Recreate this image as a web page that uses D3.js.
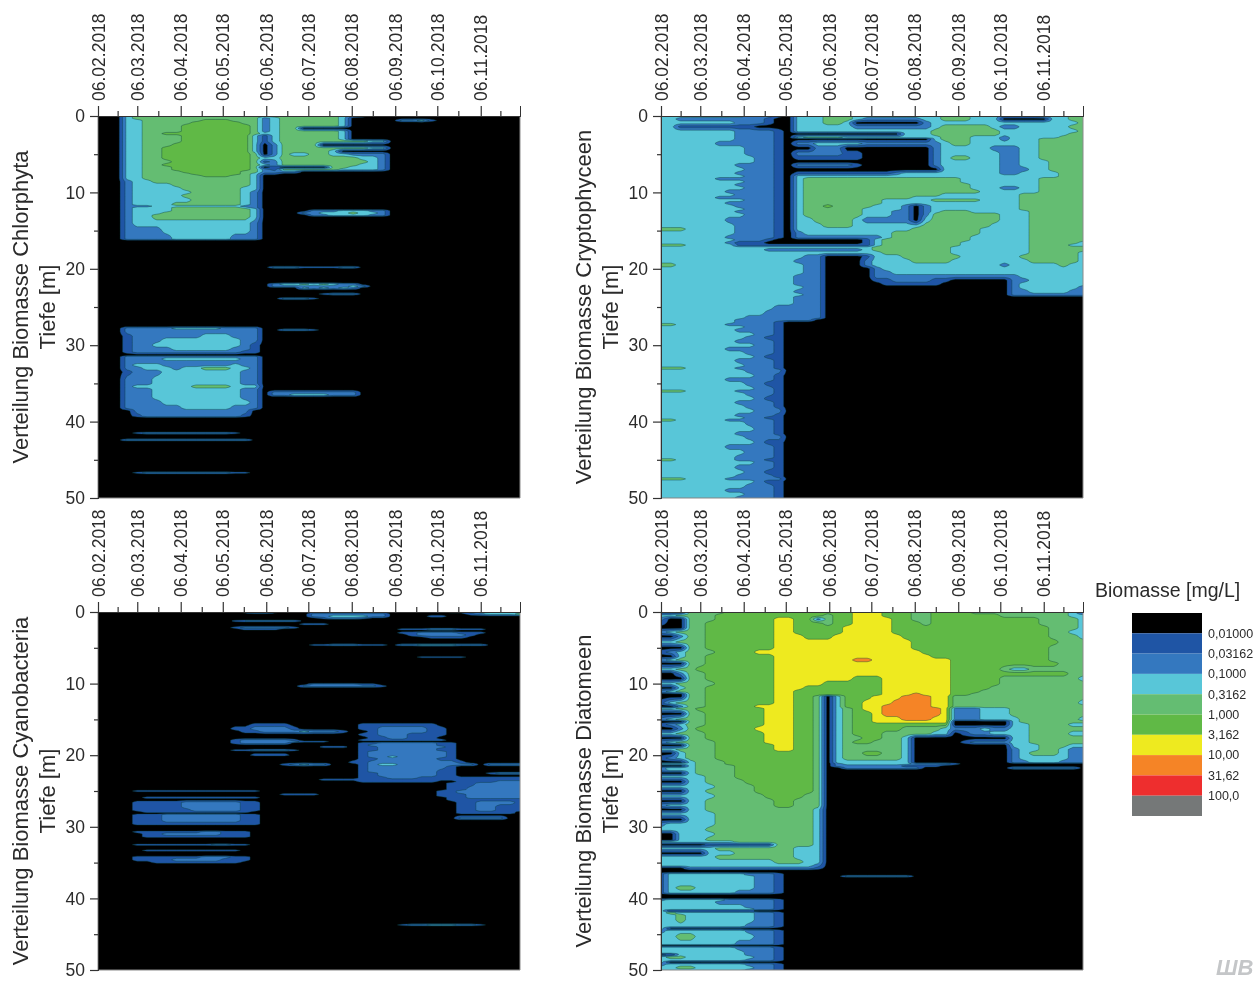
<!DOCTYPE html>
<html>
<head>
<meta charset="utf-8">
<script src="https://cdn.jsdelivr.net/npm/d3@7"></script>
<style>
  html, body { margin: 0; padding: 0; background: #fff; overflow: hidden; }
  svg { display: block; filter: blur(0.4px); }
  text { font-family: "Liberation Sans", Arial, sans-serif; fill: #2b2b2b; }
</style>
</head>
<body>
<script>
// weekly sampling dates, one column of the tables below each
var sampleDates = [
    "2018-02-06","2018-02-13","2018-02-20","2018-02-27","2018-03-06","2018-03-13","2018-03-20","2018-03-27",
    "2018-04-03","2018-04-10","2018-04-17","2018-04-24","2018-05-01","2018-05-08","2018-05-15","2018-05-22",
    "2018-05-29","2018-06-05","2018-06-12","2018-06-19","2018-06-26","2018-07-03","2018-07-10","2018-07-17",
    "2018-07-24","2018-07-31","2018-08-07","2018-08-14","2018-08-21","2018-08-28","2018-09-04","2018-09-11",
    "2018-09-18","2018-09-25","2018-10-02","2018-10-09","2018-10-16","2018-10-23","2018-10-30","2018-11-06",
    "2018-11-13","2018-11-20","2018-11-27","2018-12-04"
];
var majorDates = ["2018-02-06","2018-03-06","2018-04-06","2018-05-06","2018-06-06","2018-07-06","2018-08-06","2018-09-06","2018-10-06","2018-11-06"];
var minorDates = ["2018-02-20","2018-03-21","2018-04-21","2018-05-21","2018-06-21","2018-07-21","2018-08-21","2018-09-21","2018-10-21","2018-11-20"];
var majorDepths = [0, 10, 20, 30, 40, 50];
var minorDepths = [5, 15, 25, 35, 45];

// legend classes
var contourLevels = [0.01, 0.03162, 0.1, 0.3162, 1, 3.162, 10, 31.62, 100];
var levelLabels = ["0,01000","0,03162","0,1000","0,3162","1,000","3,162","10,00","31,62","100,0"];
var bandColors = ["#000000","#1f55a5","#3478bf","#58c6d8","#64bd72","#60b946","#eeea1f","#f58426","#ee2e2e","#757878"];

// [depth in m, biomass class per sampling date]. class 0 = below 0,01 mg/L, 1 = 0,01-0,03162 ...
// missing columns at the end of a row are class 0
var chlorophytaProfiles = [
    [0,"0003444444 4444444444 4444432100"],
    [0.3,"0003444444 4444444234 4444430000"],
    [0.6,"0003344444 4555444234 4444430000 0223100000"],
    [0.85,"0003344444 5555544234 4444430000"],
    [1.3,"0003344445 5555554234 4444430000"],
    [1.6,"0003344445 5555554234 4000000000"],
    [2,"0003344445 5555554234 4444430000"],
    [2.3,"0003344555 5555554334 4444430000"],
    [2.6,"0003344445 5555553134 4444430000"],
    [3,"0003344445 5555553134 4444430000"],
    [3.3,"0003344445 5555553134 4444444433"],
    [3.8,"0003344455 5555553024 4440000000"],
    [4.2,"0003344555 5555553024 4444444433"],
    [4.6,"0003344555 5555553024 4444300000"],
    [5,"0003344555 5555554024 3344332222"],
    [5.5,"0003344555 5555554334 4444444332"],
    [6,"0003344455 5555554124 4444444432"],
    [6.4,"0003344555 5555554324 4444444332"],
    [6.7,"0003344455 5555554010 0000443332"],
    [7,"0003344455 5555554214 4444433332"],
    [7.3,"0003344445 5555544222 2000000000"],
    [7.6,"0003344444 5555543110 0000000000"],
    [7.8,"0003344444 4555443000"],
    [8.1,"0003344444 4444443000"],
    [8.6,"0002334444 4444443000"],
    [9,"0002333344 4444443000"],
    [9.5,"0002333334 4444433000"],
    [10,"0002333333 4444432000"],
    [10.4,"0002333334 4444432000"],
    [11,"0002333333 4444432000"],
    [11.6,"0002333344 4444432000"],
    [11.8,"0002223333 3333322000"],
    [12,"0002333344 4444432000"],
    [12.2,"0002333344 4444443000"],
    [12.4,"0002333344 4444443000 0022233322"],
    [12.7,"0002333444 4444443000 0223334332"],
    [13,"0002334444 4444443000 0022333322"],
    [13.2,"0002334444 4444443000"],
    [14,"0002333333 3333332000"],
    [15,"0002222333 3333332000"],
    [15.9,"0002222233 3333222000"],
    [16.1,"0002222233 3333222000"],
    [16.3,""],
    [19.6,""],
    [19.8,"0000000000 0000000022 2111122000"],
    [20,""],
    [21.8,""],
    [22,"0000000000 0000000023 3434322000"],
    [22.3,"0000000000 0000000022 2222223200"],
    [22.5,"0000000000 0000000000 0323232000"],
    [22.8,""],
    [23.1,""],
    [23.3,"0000000000 0000000000 0001222000"],
    [23.5,""],
    [23.7,""],
    [23.9,"0000000000 0000000002 2210000000"],
    [24.1,""],
    [27.5,""],
    [27.8,"0002222233 3332222000"],
    [28,"0002222222 2222222002 2210000000"],
    [28.2,"0002222222 2222222000"],
    [28.8,"0001222222 2333222000"],
    [29.3,"0001222333 3333322000"],
    [30,"0001223333 3333321000"],
    [30.5,"0001222233 3333221000"],
    [30.9,"0001222222 2222211000"],
    [31.3,""],
    [31.5,"0002222222 2222222000"],
    [31.8,"0002222333 3333322000"],
    [32.2,"0002222222 2222222000"],
    [32.6,"0002333222 2222322000"],
    [33,"0002233323 3444332000"],
    [33.5,"0001222333 3333322000"],
    [34.5,"0002223333 3333322000"],
    [35,"0002223333 3333322000"],
    [35.4,"0002333333 4444333000"],
    [35.8,"0002223333 3333322000"],
    [36.2,"0002223333 3333322022 2222222000"],
    [36.5,"0002223333 3333322022 3333222000"],
    [36.8,"0002223333 3333322000"],
    [37.5,"0002222333 3333332000"],
    [38.2,"0002222223 3333222000"],
    [38.6,"0000222222 2222220000"],
    [39.3,"0000122222 2222210000"],
    [39.5,""],
    [41.3,""],
    [41.5,"0000122222 2222100000"],
    [41.7,""],
    [42.2,""],
    [42.4,"0002222222 2222220000"],
    [42.6,""],
    [46.5,""],
    [46.7,"0000122222 2222110000"],
    [46.9,""],
    [50,""]
];

var cryptophyceenProfiles = [
    [0,"3333333332 2210333444 3333333334 4433322223 3344"],
    [0.4,"3322222222 2100333444 3222222334 4433300000 3344"],
    [0.9,"3333333322 2100333443 0000000233 3333333333 3334"],
    [1.4,"3311111111 0000333333 2222222234 4444322333 3344"],
    [2,"3333333322 2210333333 3333333344 4444433333 3334"],
    [2.35,"3333333322 2210000000 0000033344 4444433333 3344"],
    [2.8,"3333333322 2210344443 3333333334 4433323333 3444"],
    [3,"3333333322 2210000000 0000000034 4433323334 4444"],
    [3.6,"3333332222 2210223333 3222222223 4433333334 4444"],
    [4.2,"3333333332 2210002220 0000000023 3333222334 4444"],
    [4.9,"3333333332 2210222221 1000000023 3333322334 4444"],
    [5.5,"3333333333 2210111111 1000000023 4433322334 4444"],
    [6,"3333333333 2210000000 0000000023 3333322333 4444"],
    [6.4,"3333333322 2210222222 1000000023 3333322333 4444"],
    [7,"3333333332 2210000000 0000000003 3333322233 4444"],
    [7.5,"3333333322 2210111111 1111233333 3333322333 3444"],
    [7.9,"3333333332 2210333333 3333333333 3333333333 3444"],
    [8.2,"3333332222 2210344444 4444444444 4333333334 4444"],
    [8.6,"3333333332 2210344444 4444444444 4333333334 4444"],
    [9,"3333333322 2210344444 4444444444 4433333334 4444"],
    [9.4,"3333333332 2210344444 4444444444 4433322334 4444"],
    [9.9,"3333333222 2210344444 4444444444 4443333334 4444"],
    [10.3,"3333333322 2210344444 4444444443 3333333444 4444"],
    [10.7,"3333332222 2210344444 4444443333 3333333444 4444"],
    [11,"3333333332 2210344444 4443333344 4443333444 4444"],
    [11.4,"3333333222 2210344444 4443333333 3333333444 4444"],
    [11.8,"3333333322 2210344544 4433320233 3333333444 4444"],
    [12.2,"3333333332 2210344444 4333320233 3333333444 4444"],
    [12.5,"3333333322 2210344444 4333220234 4433333344 4444"],
    [12.9,"3333333332 2210344444 4333220244 4444433344 4444"],
    [13.6,"3333333222 2210334444 3222220344 4444433344 4444"],
    [14.4,"3333333322 2210333444 3333333444 4444333344 4444"],
    [14.8,"4443333322 2210333333 3333334444 4443333344 4444"],
    [15.3,"3333333322 2210233333 3333444444 4443333344 4444"],
    [15.9,"3333333222 2210222222 2223444444 4433333344 4444"],
    [16.2,"3333333322 2100000000 0134444444 4433333344 4444"],
    [16.6,"3333333211 1000000000 0134444444 4333333344 4443"],
    [16.9,"4443333311 1111111111 1134444444 4333333344 4433"],
    [17.2,"3333333333 3333333333 3344444444 3333333344 4444"],
    [17.5,"3333333333 3222222222 2344444444 3333333344 4444"],
    [17.9,"3333333333 3333333333 3334444444 3333333344 4443"],
    [18.4,"3333333333 3333322000 0133344444 4333333444 4443"],
    [19,"3333333333 3333222000 0233334444 3333333344 4443"],
    [19.5,"4433333333 3333322000 0233333333 3333323333 3433"],
    [20,"3333333333 3333322000 0023333333 3333333333 3333"],
    [20.5,"3333333333 3333322000 0022333333 3333333333 3333"],
    [21,"3333333333 3333222000 0022222222 2222222333 3333"],
    [21.5,"3333333333 3333222000 0011222211 0000002233 3333"],
    [22,"3333333333 3333222000 0001111110 0000002333 3333"],
    [22.4,"3333333333 3333322000 0000000000 0000002333 3332"],
    [23,"3333333333 3333222000 0000000000 0000002233 3322"],
    [23.4,"3333333333 3333322000 0000000000 0000002222 2222"],
    [23.7,"3333333333 3333222000"],
    [24.5,"3333333333 3333222000"],
    [25,"3333333333 3322222000"],
    [25.8,"3333333333 3222222000"],
    [26.4,"3333333332 2222222000"],
    [26.7,"3333333322 2222220000"],
    [27,"3333333322 2210000000"],
    [27.3,"4433333222 2210"],
    [27.6,"3333333332 2210"],
    [28,"3333333322 2210"],
    [28.6,"3333333333 2210"],
    [29,"3333333332 2110"],
    [29.5,"3333333322 2210"],
    [30,"3333333333 2210"],
    [30.5,"3333333222 2210"],
    [31,"3333333332 2210"],
    [31.5,"3333333333 2110"],
    [32,"3333333322 2210"],
    [32.7,"3333333332 2210"],
    [33,"4443333322 2210"],
    [33.3,"3333333332 2220"],
    [34,"3333333333 2210"],
    [34.5,"3333333222 2210"],
    [35,"3333333332 2110"],
    [35.7,"3333333333 2210"],
    [36,"4443333322 2210"],
    [36.3,"3333333332 2210"],
    [37,"3333333333 2110"],
    [37.5,"3333333322 2210"],
    [38,"3333333332 2210"],
    [38.6,"3333333333 2220"],
    [39.2,"3333333322 2210"],
    [39.5,"3333333332 2110"],
    [39.8,"4433333222 2210"],
    [40.1,"3333333332 2210"],
    [41,"3333333333 2210"],
    [41.6,"3333333322 2210"],
    [42,"3333333332 2220"],
    [42.7,"3333333333 2110"],
    [43.3,"3333333222 2210"],
    [44,"3333333332 2210"],
    [44.7,"3333333322 2210"],
    [45,"4433333322 2110"],
    [45.3,"3333333333 2210"],
    [46,"3333333322 2210"],
    [46.6,"3333333332 2110"],
    [47.2,"3333333322 2210"],
    [47.5,"4443333222 2220"],
    [47.8,"3333333333 2110"],
    [48.5,"3333333332 2210"],
    [49,"3333333222 2210"],
    [49.5,"3333333332 2210"],
    [50,"3333333322 2210"]
];

var cyanobacteriaProfiles = [
    [0,"0000000000 0000013310 0000000000 0000001123 3333"],
    [0.3,"0000000000 0000000000 0022222222 0000000012 3334"],
    [0.6,"0000000000 0000000000 0022333322 0000110000"],
    [0.9,"0000000000 0000000000 0001222100"],
    [1.05,""],
    [1.25,"0000000000 0000122222 2000000000"],
    [1.45,""],
    [1.7,"0000000000 0000000000 0111000000"],
    [1.9,""],
    [2.2,"0000000000 0000122222 1000000000"],
    [2.4,"0000000000 0000011110 0000000000 0111222111"],
    [2.65,""],
    [2.9,"0000000000 0000000000 0000000000 0112222111"],
    [3.2,"0000000000 0000000000 0000000000 0012222210"],
    [3.6,"0000000000 0000000000 0000000000 0000111100"],
    [3.8,""],
    [4.4,""],
    [4.6,"0000000000 0000000000 0011222111 0223333222"],
    [4.8,""],
    [6.1,""],
    [6.3,"0000000000 0000000000 0000000000 0001111100"],
    [6.5,""],
    [9.9,""],
    [10.1,"0000000000 0000000000 0022222110"],
    [10.35,"0000000000 0000000000 0222222221"],
    [10.6,""],
    [15.4,""],
    [15.7,"0000000000 0000001111 0000000111 1111100000"],
    [16.3,"0000000000 0000112222 1000000112 2222110000"],
    [16.7,"0000000000 0000011222 2322210012 2222110000"],
    [17.1,"0000000000 0000000000 0000000112 2211110000"],
    [17.6,"0000000000 0000000000 0000000011 2211100000"],
    [17.9,"0000000000 0000122222 1000000111 1111110000"],
    [18.1,"0000000000 0000122222 2111000000"],
    [18.3,"0000000000 0000122222 0000000112 2222211000"],
    [18.6,"0000000000 0000000000 0000000122 2222211000"],
    [18.85,"0000000000 0000000000 0001110112 2222221000"],
    [19.1,"0000000000 0000000000 0000000112 2222211000"],
    [19.3,"0000000000 0000112222 1000000112 2222211000"],
    [19.5,"0000000000 0000000000 0000000122 2222221000"],
    [20,"0000000000 0000001111 0000000122 2222221000"],
    [20.2,"0000000000 0000000000 0000000122 3222221000"],
    [20.5,"0000000000 0000000000 0000000112 2222211000"],
    [21,"0000000000 0000000000 0000001122 2222222100"],
    [21.3,"0000000000 0000000001 2322000123 3222222220 2222"],
    [21.6,"0000000000 0000000000 0000000122 2222221000"],
    [22.3,"0000000000 0000000000 0000000122 2222211000"],
    [22.5,"0000000000 0000000000 0000000112 2222211000 1222"],
    [22.8,"0000000000 0000000000 0000000112 2222211000"],
    [23.2,"0000000000 0000000000 0000000111 2221111111 1111"],
    [23.4,"0000000000 0000000000 0001111111 1111111111 1111"],
    [23.7,"0000000000 0000000000 0000000111 1111100111 1222"],
    [23.9,"0000000000 0000000000 0000000000 0000001112 2222"],
    [24.8,"0000000000 0000000000 0000000000 0000001122 2222"],
    [25,"0000111111 1111111000 0000000000 0000011222 2222"],
    [25.2,"0000000000 0000000000 0000000000 0000011222 2222"],
    [25.5,"0000000000 0000000001 1110000000 0000011122 2222"],
    [25.7,"0000000000 0000000000 0000000000 0000011122 2222"],
    [25.9,"0000011111 1111111000 0000000000 0000001122 2222"],
    [26.2,"0000000000 0000000000 0000000000 0000001111 1111"],
    [26.6,"0000111112 2222211000 0000000000 0000000112 2221"],
    [27.2,"0000111112 2222211000 0000000000 0000000112 2111"],
    [27.7,"0000111111 2222211000 0000000000 0000000112 2111"],
    [27.95,"0000011111 1111110000 0000000000 0000000111 1110"],
    [28.1,"0000000000 0000000000 0000000000 0000000111 1110"],
    [28.3,"0000111222 2222211000"],
    [28.8,"0000111222 2222211000 0000000000 0000000222 2200"],
    [29.1,"0000111222 2222211000"],
    [29.6,"0000111111 1111111000"],
    [29.9,""],
    [30.5,""],
    [30.7,"0000111111 1221110000"],
    [31,"0000011222 2221110000"],
    [31.4,"0000011111 1111110000"],
    [31.6,""],
    [32.3,""],
    [32.5,"0000111111 1122110000"],
    [32.7,""],
    [33.1,""],
    [33.3,"0000011111 1111100000"],
    [33.5,""],
    [34,""],
    [34.2,"0000111111 1222110000"],
    [34.6,"0000111122 2221110000"],
    [35,"0000001111 1111100000"],
    [35.2,""],
    [43.5,""],
    [43.7,"0000000000 0000000000 0000000000 0122333221"],
    [43.9,""],
    [50,""]
];

var diatomeenProfiles = [
    [0,"0004444555 5555555555 6665554455 5544444444 4431"],
    [0.5,"3344445555 5555555455 6665554455 5555544444 4433"],
    [1,"2004445555 5566552455 6666554455 5555555554 4443"],
    [1.6,"1004455555 5566555455 6666555455 5555555554 4443"],
    [2.2,"0004455555 5566555556 6666555555 5555555555 4443"],
    [2.8,"2344455555 5566555556 6666555555 5555555555 4433"],
    [3.4,"0024455555 5566655566 6666655555 5555555555 4443"],
    [4.2,"3344455555 5566666666 6666665555 5555555555 5444"],
    [5,"0004455555 5566666666 6666665555 5555555555 4444"],
    [5.6,"1234445555 6666666666 6666666555 5555555555 4444"],
    [6.2,"0034455555 5566666666 6666666655 5555555555 4444"],
    [6.7,"2344455555 5566666666 7766666666 5555555555 4444"],
    [7.2,"0004455555 5566666666 6666666666 5555555555 5444"],
    [8,"3344555555 5566666666 6666666666 5555543344 4444"],
    [8.6,"0024455555 5566666666 6666666666 5555555555 5544"],
    [9.3,"0004455555 5566666666 5556666666 5555544444 4443"],
    [10,"3344445555 5566666555 5556666666 5555544444 4444"],
    [10.6,"0034455555 5566655555 5556666666 5555444444 4444"],
    [11.1,"2344455555 5566555555 5556666666 5554444444 4444"],
    [11.5,"0004455555 5566555555 5556667666 5544444444 4444"],
    [11.8,"0004455555 5566554035 5566677766 4444444444 4444"],
    [12.7,"1344455555 5566554035 5666777766 4444444444 4443"],
    [13.2,"0024455555 6666554035 5667777766 4444444444 4444"],
    [13.5,"3344555555 5666554034 5667777776 2223334444 4444"],
    [14.2,"0004455555 5666554034 5567777776 2223334444 4444"],
    [15,"2344455555 5666554034 5566677766 2223333444 4443"],
    [15.3,"0004455555 5666554034 5566666666 0000003444 4444"],
    [15.7,"1234455555 5666554034 5555555555 0000003344 4433"],
    [16.3,"0024555555 6666554034 5555544443 2223223344 4444"],
    [17,"3344455555 5666554034 5554444433 0122333344 4433"],
    [17.6,"0004455555 5666554034 4554430000 0000003344 4444"],
    [18.2,"2344445555 5666554034 5544430000 0122223344 4444"],
    [18.6,"0004445555 5566554034 4444430000 0000003334 4433"],
    [19.2,"3344445555 5566554034 4444430000 0000002334 4322"],
    [19.7,"0034445555 5555554034 4554430000 0000002344 4322"],
    [20.4,"1234445555 5555554034 4444430000 0000002333 3322"],
    [21,"0003444555 5555554033 3333330000 0000002233 3222"],
    [21.2,"3333444555 5555554023 3333332222 1000000000"],
    [21.5,"0003444455 5555554022 2222211110"],
    [21.8,"2333444455 5555554002 2222222000 0000002222 2220"],
    [22.05,"2333444455 5555554"],
    [22.5,"0003444455 5555554"],
    [23,"3333344455 5555554"],
    [23.7,"0003344445 5555554"],
    [24.4,"3333334444 5555554"],
    [25,"0003344444 5555554"],
    [25.7,"3333334444 4555544"],
    [26.4,"0003344444 4455444"],
    [27,"2333344444 4455444"],
    [27.6,"0003344444 4444443"],
    [28.2,"3333334444 4444443"],
    [29,"0003334444 4444443"],
    [29.6,"2333334444 4444443"],
    [30.4,"3333344444 4444443"],
    [31,"0033334444 4444443"],
    [31.8,"0033344444 4444443"],
    [32.1,"3333333344 4444443"],
    [32.5,"0000011111 1144443"],
    [33,"3333334444 4444333"],
    [33.7,"0000033344 4444333"],
    [34.2,"3333334444 4444333"],
    [34.9,"3333333333 3344433"],
    [35.4,"3333333333 3333332"],
    [35.8,"0002222222 2222221"],
    [36.1,""],
    [36.3,""],
    [36.6,"1333333332 2210"],
    [36.7,"1333333332 2210"],
    [36.9,"1333333333 2210000002 2222220000"],
    [37.1,"1333333333 2210"],
    [38,"1333333333 2210"],
    [38.5,"1344333333 2210"],
    [39.2,"1333333322 2210"],
    [39.5,""],
    [39.95,""],
    [40.2,"2333333222 2210"],
    [40.5,"3333332222 2210"],
    [41.2,"3333333332 2210"],
    [41.5,"3333333333 2210"],
    [41.75,"3000000000 0000"],
    [42,"3433333333 2210"],
    [42.4,"3343333333 2210"],
    [43,"3343333333 2210"],
    [43.9,"3333333332 2210"],
    [44.25,"3000000000 0000"],
    [44.5,"2333333332 2210"],
    [45.3,"3344333333 2210"],
    [46.4,"3333333322 2210"],
    [46.6,""],
    [46.85,"3333333322 2210"],
    [47.6,"3333333332 2210"],
    [47.85,"0033333332 2210"],
    [48.2,"3443333333 2210"],
    [48.65,"3333333332 2210"],
    [48.9,"3000000000 0000"],
    [49.2,"2333333332 2210"],
    [49.7,"3344333333 2210"],
    [50,"3333333332 2210"]
];

var panels = [
    { name: "Verteilung Biomasse Chlorphyta", profiles: chlorophytaProfiles, left: 98, top: 116, height: 382 },
    { name: "Verteilung Biomasse Cryptophyceen", profiles: cryptophyceenProfiles, left: 661, top: 116, height: 382 },
    { name: "Verteilung Biomasse Cyanobacteria", profiles: cyanobacteriaProfiles, left: 98, top: 612, height: 358 },
    { name: "Verteilung Biomasse Diatomeen", profiles: diatomeenProfiles, left: 661, top: 612, height: 358 }
];

var w = 1258;
var h = 982;
var panelWidth = 422;
var depthStep = 0.1;
var parseDate = d3.utcParse("%Y-%m-%d");
var formatDate = d3.utcFormat("%d.%m.%Y");

var svg = d3.select("body").append("svg")
            .attr("width", w)
            .attr("height", h);

// class number -> log10 of the middle of that class
function classToLog(c) {
    return -2.25 + 0.5 * c;
}

// depth rows are uneven in the tables, contours need an even grid
function buildGrid(profiles) {
    var nCols = sampleDates.length;
    var rows = profiles.map(function(p) {
        var s = p[1].replace(/ /g, "").padEnd(nCols, "0");
        return { depth: p[0], logs: Array.from(s, function(ch) { return classToLog(+ch); }) };
    });
    var nRows = Math.round(50 / depthStep) + 1;
    var bisect = d3.bisector(function(r) { return r.depth; }).right;
    var values = new Array(nCols * nRows);
    for (var j = 0; j < nRows; j++) {
        var d = j * depthStep;
        var k = Math.min(bisect(rows, d), rows.length - 1);
        var r0 = rows[Math.max(k - 1, 0)];
        var r1 = rows[k];
        var t = r1.depth > r0.depth ? Math.min((d - r0.depth) / (r1.depth - r0.depth), 1) : 0;
        for (var i = 0; i < nCols; i++) {
            values[j * nCols + i] = r0.logs[i] + (r1.logs[i] - r0.logs[i]) * t;
        }
    }
    return { values: values, nCols: nCols, nRows: nRows };
}

var thresholds = contourLevels.map(function(v) { return Math.log10(v); });

panels.forEach(function(p, idx) {
    var x = d3.scaleUtc()
              .domain([parseDate(sampleDates[0]), parseDate(sampleDates[sampleDates.length - 1])])
              .range([p.left, p.left + panelWidth]);
    var y = d3.scaleLinear()
              .domain([0, 50])
              .range([p.top, p.top + p.height]);

    var grid = buildGrid(p.profiles);
    var gridX = d3.scaleLinear().domain([0.5, grid.nCols - 0.5]).range(x.range());
    var gridY = d3.scaleLinear().domain([0.5, grid.nRows - 0.5]).range(y.range());
    var path = d3.geoPath(d3.geoTransform({
        point: function(px, py) { this.stream.point(gridX(px), gridY(py)); }
    }));
    var contours = d3.contours()
                     .size([grid.nCols, grid.nRows])
                     .thresholds(thresholds)(grid.values);

    svg.append("clipPath")
        .attr("id", "clip" + idx)
        .append("rect")
        .attr("x", p.left)
        .attr("y", p.top)
        .attr("width", panelWidth)
        .attr("height", p.height);

    var plot = svg.append("g").attr("clip-path", "url(#clip" + idx + ")");
    plot.append("rect")
        .attr("x", p.left)
        .attr("y", p.top)
        .attr("width", panelWidth)
        .attr("height", p.height)
        .attr("fill", bandColors[0]);
    plot.selectAll("path")
        .data(contours)
        .enter()
        .append("path")
        .attr("d", path)
        .attr("fill", function(d, i) { return bandColors[i + 1]; })
        .attr("stroke", "#0b3d3a")
        .attr("stroke-width", 0.4);

    // frame
    svg.append("path")
        .attr("d", "M" + p.left + "," + p.top + "V" + (p.top + p.height) + "H" + (p.left + panelWidth) + "V" + p.top)
        .attr("fill", "none")
        .attr("stroke", "#8a8a8a")
        .attr("stroke-width", 1);

    // top axis
    var topAxis = svg.append("g")
        .attr("transform", "translate(0," + p.top + ")")
        .call(d3.axisTop(x).tickValues(majorDates.map(parseDate)).tickFormat(formatDate).tickSize(10));
    topAxis.selectAll("text")
        .attr("transform", "rotate(-90)")
        .attr("text-anchor", "start")
        .attr("x", 15)
        .attr("y", 0)
        .attr("dy", "0.35em")
        .attr("font-size", "17.5px");
    svg.append("g")
        .attr("transform", "translate(0," + p.top + ")")
        .call(d3.axisTop(x).tickValues(minorDates.map(parseDate)).tickFormat("").tickSize(5));

    // left axis
    var leftAxis = svg.append("g")
        .attr("transform", "translate(" + p.left + ",0)")
        .call(d3.axisLeft(y).tickValues(majorDepths).tickSize(8).tickPadding(5));
    leftAxis.selectAll("text").attr("font-size", "17.5px");
    svg.append("g")
        .attr("transform", "translate(" + p.left + ",0)")
        .call(d3.axisLeft(y).tickValues(minorDepths).tickFormat("").tickSize(4));

    svg.selectAll(".domain").attr("stroke", "#333");
    svg.selectAll(".tick line").attr("stroke", "#333").attr("stroke-width", 1.2);

    // axis titles
    var midY = p.top + p.height / 2;
    svg.append("text")
        .attr("transform", "translate(" + (p.left - 70) + "," + midY + ") rotate(-90)")
        .attr("text-anchor", "middle")
        .attr("font-size", "22px")
        .text(p.name);
    svg.append("text")
        .attr("transform", "translate(" + (p.left - 43) + "," + midY + ") rotate(-90)")
        .attr("text-anchor", "middle")
        .attr("font-size", "22px")
        .text("Tiefe [m]");
});

// legend
var legendY = d3.scaleLinear().domain([0, bandColors.length]).range([613, 816]);
svg.selectAll(".swatch")
    .data(bandColors)
    .enter()
    .append("rect")
    .attr("class", "swatch")
    .attr("x", 1132)
    .attr("y", function(d, i) { return legendY(i); })
    .attr("width", 70)
    .attr("height", function(d, i) { return legendY(i + 1) - legendY(i); })
    .attr("fill", function(d) { return d; });
svg.selectAll(".levelLabel")
    .data(levelLabels)
    .enter()
    .append("text")
    .attr("class", "levelLabel")
    .attr("x", 1208)
    .attr("y", function(d, i) { return legendY(i + 1); })
    .attr("dy", "0.35em")
    .attr("font-size", "12.5px")
    .text(function(d) { return d; });
svg.append("text")
    .attr("x", 1095)
    .attr("y", 597)
    .attr("font-size", "19.5px")
    .text("Biomasse [mg/L]");

// publisher mark
svg.append("text")
    .attr("x", 1216)
    .attr("y", 975)
    .attr("font-size", "22px")
    .attr("font-weight", "bold")
    .attr("font-style", "italic")
    .style("fill", "#c4c6c8")
    .text("ШВ");
</script>
</body>
</html>
